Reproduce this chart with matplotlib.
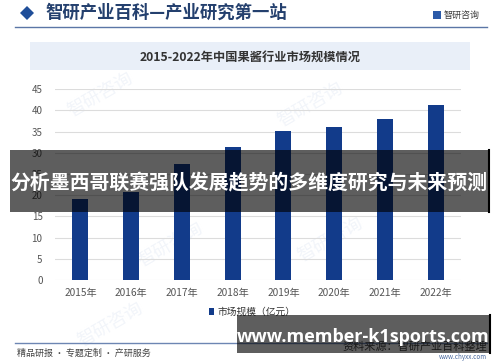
import matplotlib
matplotlib.use("Agg")
import matplotlib.pyplot as plt
from matplotlib.patches import Rectangle, Polygon

plt.rcParams['font.family'] = ['Noto Sans CJK SC', 'DejaVu Sans']

years = ["2015年", "2016年", "2017年", "2018年", "2019年", "2020年", "2021年", "2022年"]
market_size = [19.0, 20.8, 27.4, 31.4, 35.2, 36.2, 38.1, 41.3]
y_ticks = [0, 5, 10, 15, 20, 25, 30, 35, 40, 45]

header_text = "智研产业百科—产业研究第一站"
chart_title = "2015-2022年中国果酱行业市场规模情况"
legend_label = "市场规模（亿元）"
overlay_title = "分析墨西哥联赛强队发展趋势的多维度研究与未来预测"
overlay_url = "www.member-k1sports.com"

W, H = 500, 362
fig = plt.figure(figsize=(5, 3.62), dpi=100)
fig.patch.set_facecolor("white")

def fx(x):
    return x / W

def fy(y):
    return 1 - y / H

# faint watermarks
for (x, y) in [(100, 95), (310, 105), (170, 245), (330, 240), (110, 325)]:
    fig.text(fx(x), fy(y), "智研咨询", fontsize=13, color="#f2f5fa", rotation=30,
             ha="center", va="center", zorder=-1)

# header
fig.patches.append(Polygon([[fx(20), fy(13)], [fx(27), fy(6)], [fx(34), fy(13)], [fx(27), fy(20)]],
                           closed=True, transform=fig.transFigure, facecolor="#1f4e99",
                           edgecolor="none"))
fig.text(fx(45), fy(13), header_text, fontsize=12.5, color="#24406e", ha="left", va="center",
         fontweight="bold")
fig.patches.append(Rectangle((fx(433), fy(19)), fx(8), 8 / H, transform=fig.transFigure,
                             facecolor="#2b5aa8", edgecolor="none"))
fig.text(fx(444), fy(15), "智研咨询", fontsize=6.5, color="#3a3a3a", ha="left", va="center")
fig.add_artist(plt.Line2D([fx(15), fx(487)], [fy(27), fy(27)], transform=fig.transFigure,
                          color="#5b76a6", lw=1.0))

# title box
fig.patches.append(Rectangle((fx(30), fy(70)), fx(440), 28 / H, transform=fig.transFigure,
                             facecolor="#e9eff8", edgecolor="none"))
fig.text(fx(250), fy(57), chart_title, fontsize=8.8, color="#333333", ha="center", va="center",
         fontweight="bold")

# axes
ax = fig.add_axes([fx(55), fy(280), fx(461) - fx(55), (280 - 89.3) / H])
ax.set_zorder(1)
ax.set_facecolor("none")
x = list(range(len(years)))
ax.bar(x, market_size, width=0.315, color="#123b8a", zorder=3, label=legend_label)
ax.set_xlim(-0.5, len(years) - 0.5)
ax.set_ylim(0, 45)
ax.set_yticks(y_ticks)
ax.set_yticklabels([str(t) for t in y_ticks])
ax.set_xticks(x)
ax.set_xticklabels(years)
ax.grid(axis="y", color="#dcdcdc", lw=0.8, zorder=0)
for s in ax.spines.values():
    s.set_visible(False)
ax.tick_params(axis="both", length=0, colors="#555555", labelsize=7)
ax.tick_params(axis="x", labelsize=7.3, pad=6)
ax.tick_params(axis="y", pad=9)

# legend
leg = fig.legend(loc="center", bbox_to_anchor=(fx(252), fy(312)), frameon=False, fontsize=7,
                 handlelength=0.6, handleheight=0.6, handletextpad=0.3,
                 labelcolor="#333333")

# footer
fig.add_artist(plt.Line2D([fx(15), fx(487)], [fy(343), fy(343)], transform=fig.transFigure,
                          color="#6d86b3", lw=1.0))
fig.text(fx(17), fy(353), "精品研报 · 专题定制 · 产研服务", fontsize=6.5, color="#444444",
         ha="left", va="center")
fig.text(fx(487), fy(347), "资料来源：智研产业百科整理", fontsize=8, color="#444444",
         ha="right", va="center")
fig.text(fx(487), fy(357), "www.chyxx.com", fontsize=4.5, color="#4a6aa0", ha="right",
         va="center")

# overlay band
fig.patches.append(Rectangle((fx(10), fy(211.5)), fx(478), 61.5 / H, transform=fig.transFigure,
                             facecolor="black", alpha=0.63, edgecolor="none", zorder=10))
fig.add_artist(plt.Line2D([fx(489), fx(489)], [fy(150), fy(211.5)], transform=fig.transFigure,
                          color="black", lw=1.5, zorder=11))
fig.text(fx(249), fy(183), overlay_title, fontsize=14.3, color="white", ha="center",
         va="center", fontweight="bold", zorder=12)

# url overlay
fig.patches.append(Rectangle((fx(237), fy(352.5)), fx(252), 37.5 / H, transform=fig.transFigure,
                             facecolor="black", alpha=0.63, edgecolor="none", zorder=10))
fig.add_artist(plt.Line2D([fx(489.5), fx(489.5)], [fy(315), fy(352.5)], transform=fig.transFigure,
                          color="black", lw=1.5, zorder=11))
fig.text(fx(363), fy(337), overlay_url, fontsize=13, color="white", ha="center",
         va="center", fontweight="bold", family=["Open Sans", "DejaVu Sans"], zorder=12)

fig.savefig("out.png", dpi=100)
